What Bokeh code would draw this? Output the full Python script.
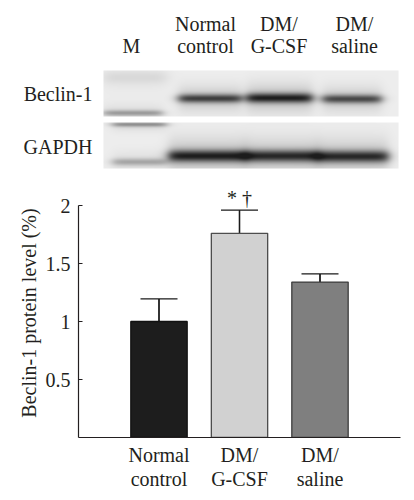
import numpy as np
from bokeh.plotting import figure
from bokeh.models import Range1d, FactorRange, FixedTicker, Whisker, TeeHead, ColumnDataSource
from bokeh.layouts import column
from bokeh.core.properties import value
from bokeh.embed import file_html
from bokeh.resources import INLINE

# ---------------- data ----------------
groups = ["Normal\ncontrol", "DM/\nG-CSF", "DM/\nsaline"]
beclin_level = [1.00, 1.76, 1.34]
beclin_upper = [1.195, 1.96, 1.41]
signif = ["", "* \u2020", ""]
y_ticks = [0.5, 1, 1.5, 2]

lane_line1 = ["", "Normal", "DM/", "DM/"]
lane_line2 = ["M", "control", "G-CSF", "saline"]
blot_rows = ["Beclin-1", "GAPDH"]

# ---------------- styles / layout ----------------
FONT_NAME = "Liberation Serif"
FONT = value(FONT_NAME)
TXT = "#231f20"
bar_fill = ["#1d1d1d", "#d1d1d1", "#7f7f7f"]
bar_line = ["#111111", "#4d4d4d", "#3c3c3c"]

FIG_W = 406
BL, BR = 78, 6
TOP_H = 180
TXT_SHIFT = 7   # baseline correction for text glyphs

# ================= top: blot picture =================
top = figure(width=FIG_W, height=TOP_H, x_range=Range1d(0, FIG_W), y_range=Range1d(0, TOP_H),
             x_axis_type=None, y_axis_type=None, output_backend="svg",
             toolbar_location=None, min_border=0, outline_line_color=None,
             frame_align=False)
top.grid.visible = False

def Y(ry):
    return TOP_H - ry

X0, X1, Ytop, Ybot = 103, 398, 70, 168
W, H = X1 - X0, Ybot - Ytop
xs = X0 + np.arange(W) + 0.5
ys = Ytop + np.arange(H) + 0.5
XX, YY = np.meshgrid(xs, ys)

def sig(z):
    return 1.0 / (1.0 + np.exp(-z))

def band(x0, x1, yc, sy, amp, ex=3.0):
    fx = sig((XX - x0) / ex) * sig((x1 - XX) / ex)
    fy = 0.8 * np.exp(-0.5 * ((YY - yc) / sy) ** 2) + 0.2 * np.exp(-0.5 * ((YY - yc) / (3 * sy)) ** 2)
    return amp * fx * fy

d = np.zeros_like(XX)
d += band(178, 241, 98.0, 3.0, 0.85)
d += band(246, 312, 97.5, 3.4, 1.0)
d += band(322, 381, 98.5, 3.0, 0.8)
d += band(168, 246, 155.5, 4.2, 1.0)
d += band(244, 318, 155.5, 4.2, 0.95)
d += band(316, 388, 156.0, 4.2, 0.95)
d += band(103, 166, 77, 5.0, 0.10, ex=4)
d += band(103, 162, 112.5, 2.0, 0.40)
d += band(112, 166, 124.0, 1.6, 0.45)
d += band(112, 166, 161.5, 2.5, 0.35)
d = np.clip(d, 0, 1)
bg = 238.0
gray = bg - (bg - 28.0) * d
mask = ((YY >= 70) & (YY < 116)) | ((YY >= 122) & (YY < 168))
img = np.zeros((H, W), dtype=np.uint32)
view = img.view(dtype=np.uint8).reshape((H, W, 4))
g = gray.astype(np.uint8)
view[:, :, 0] = g
view[:, :, 1] = g
view[:, :, 2] = g
view[:, :, 3] = np.where(mask, 255, 0).astype(np.uint8)
img = np.flipud(img)
top.image_rgba(image=[img], x=X0, y=Y(Ybot), dw=W, dh=H)

lane_x = [131, 205, 278.5, 354]
top.text(x=lane_x, y=[Y(30 - TXT_SHIFT)] * 4, text=lane_line1, text_font=FONT, text_font_size="20px",
         text_align="center", text_baseline="alphabetic", text_color=TXT)
top.text(x=lane_x, y=[Y(52 - TXT_SHIFT)] * 4, text=lane_line2, text_font=FONT, text_font_size="20px",
         text_align="center", text_baseline="alphabetic", text_color=TXT)
top.text(x=[92, 92], y=[Y(100 - TXT_SHIFT), Y(153 - TXT_SHIFT)], text=blot_rows, text_font=FONT,
         text_font_size="20px", text_align="right", text_baseline="alphabetic", text_color=TXT)

# ================= bottom: bar chart =================
BT, BB = 8, 62
frame_h = 437 - (TOP_H + BT)
BOT_H = BT + frame_h + BB
y_end = 2 * frame_h / (437 - 205)

p = figure(width=FIG_W, height=BOT_H,
           x_range=FactorRange(*groups, range_padding=0.5, range_padding_units="absolute"),
           y_range=Range1d(0, y_end), output_backend="svg", toolbar_location=None,
           min_border_left=BL, min_border_right=BR, min_border_top=BT, min_border_bottom=BB,
           outline_line_color=None, frame_align=False)
p.grid.visible = False

src = ColumnDataSource(dict(g=groups, v=beclin_level, u=beclin_upper, s=signif,
                            fc=bar_fill, lc=bar_line))
p.segment(x0="g", y0="v", x1="g", y1="u", source=src, line_color="#1a1a1a", line_width=1.3)
p.vbar(x="g", top="v", width=0.7, source=src, fill_color="fc", line_color="lc", line_width=1.3)
wh = Whisker(base="g", upper="u", lower="v", source=src, dimension="height",
             upper_head=TeeHead(size=37, line_color="#1a1a1a", line_width=1.3),
             lower_head=None, line_color="#1a1a1a", line_width=1.3)
p.add_layout(wh)
p.text(x="g", y="u", text="s", source=src, text_align="center", text_baseline="bottom",
       y_offset=-1, text_font=FONT, text_font_size="20px", text_color=TXT)

yax = p.yaxis[0]
yax.bounds = (0, 2)
yax.ticker = FixedTicker(ticks=y_ticks)
yax.major_label_overrides = {t: f"{t:g}" for t in y_ticks}
yax.major_tick_in = 4
yax.major_tick_out = 0
yax.minor_tick_line_color = None
yax.axis_line_width = 1.2
yax.major_tick_line_width = 1.2
yax.axis_line_color = TXT
yax.major_tick_line_color = TXT
yax.major_label_text_font = FONT_NAME
yax.major_label_text_font_size = "20px"
yax.major_label_text_color = TXT
yax.major_label_standoff = 8
yax.axis_label = "Beclin-1 protein level (%)"
yax.axis_label_text_font = FONT_NAME
yax.axis_label_text_font_size = "20px"
yax.axis_label_text_font_style = "normal"
yax.axis_label_text_color = TXT
yax.axis_label_standoff = 3

xax = p.xaxis[0]
xax.major_tick_line_color = None
xax.minor_tick_line_color = None
xax.axis_line_width = 1.2
xax.axis_line_color = TXT
xax.major_label_text_font = FONT_NAME
xax.major_label_text_font_size = "20px"
xax.major_label_text_line_height = 1.1
xax.major_label_text_color = TXT
xax.major_label_standoff = 0

layout = column(top, p, spacing=0)
open("out.html", "w").write(file_html(layout, INLINE))
